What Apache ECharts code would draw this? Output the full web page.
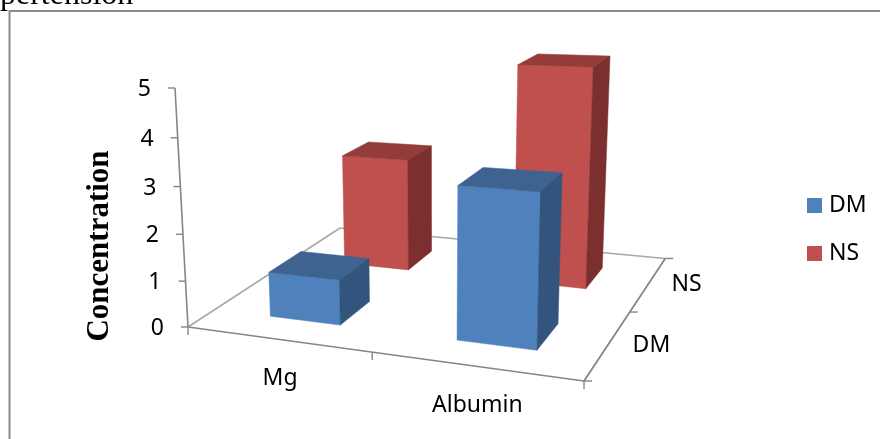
<!DOCTYPE html>
<html>
<head>
<meta charset="utf-8">
<style>
  html, body { margin: 0; padding: 0; background: #fff; }
  #chart { width: 880px; height: 439px; }
</style>
<script src="https://cdn.jsdelivr.net/npm/echarts@6/dist/echarts.min.js"></script>
</head>
<body>
<div id="chart"></div>
<script>
var materials = ['Mg', 'Albumin'];
var depths = ['DM', 'NS'];
var valueTicks = [0, 1, 2, 3, 4, 5];
var dmValues = [0.97, 3.14];
var nsValues = [2.6, 4.85];

var labelFont = '"Noto Sans", sans-serif';
var axisColor = '#868686';
var floorColor = '#a8a8a8';
var barRatio = 0.39;
var depthRatio = 0.2;
var barShift = 0.008;

// hidden grid only supplies the scales, the camera below tilts it into 3d
var gridBox = { left: 100, top: 50, width: 500, height: 300 };

// perspective camera: s along materials, t along depth, k up the value axis (all 0..1)
function project(s, t, k) {
  var w = 1 - 0.13 * s + 0.25 * t - 0.05 * k;
  return [
    (320.1 * s + 237 * t - 21.75 * k + 188) / w,
    (4.47 * s - 42 * t - 243.4 * k + 327) / w
  ];
}

function toUnit(api, cat, val) {
  var p = api.coord([cat, val]);
  return [
    (p[0] - gridBox.left) / gridBox.width,
    (gridBox.top + gridBox.height - p[1]) / gridBox.height
  ];
}

function face(points, color) {
  return {
    type: 'polygon',
    shape: { points: points },
    style: { fill: color, stroke: color, lineWidth: 0.5 }
  };
}

function line(a, b, color, width) {
  return {
    type: 'line',
    shape: { x1: a[0], y1: a[1], x2: b[0], y2: b[1] },
    style: { stroke: color, lineWidth: width }
  };
}

function label(text, x, y, align) {
  return {
    type: 'text',
    style: {
      text: text, x: x, y: y, align: align, verticalAlign: 'middle',
      fontSize: 23, fontFamily: labelFont, fill: '#000'
    }
  };
}

function barRenderer(depthIndex, colors) {
  return function (params, api) {
    var u = toUnit(api, api.value(0), api.value(1));
    var half = api.size([1, 0])[0] / gridBox.width * barRatio / 2;
    var tc = (depthIndex + 0.5) / depths.length;
    var s0 = u[0] - half + barShift, s1 = u[0] + half + barShift;
    var t0 = tc - depthRatio / 2, t1 = tc + depthRatio / 2;
    var k = u[1];
    return {
      type: 'group',
      children: [
        face([project(s0, t0, 0), project(s1, t0, 0), project(s1, t0, k), project(s0, t0, k)], colors[0]),
        face([project(s0, t0, k), project(s1, t0, k), project(s1, t1, k), project(s0, t1, k)], colors[1]),
        face([project(s1, t0, 0), project(s1, t1, 0), project(s1, t1, k), project(s1, t0, k)], colors[2])
      ]
    };
  };
}

function renderAxes(params, api) {
  var kids = [];
  var A = project(0, 0, 0), B = project(1, 0, 0), C = project(1, 1, 0), D = project(0, 1, 0);
  kids.push(line(A, D, floorColor, 1.5));
  kids.push(line(D, C, floorColor, 1.5));
  kids.push(line(A, B, axisColor, 1.6));
  kids.push(line(B, C, axisColor, 1.8));
  kids.push(line(A, project(0, 0, 1), axisColor, 1.6));

  valueTicks.forEach(function (v) {
    var k = toUnit(api, 0, v)[1];
    var p = project(0, 0, k);
    kids.push(line(p, [p[0] - 7, p[1]], axisColor, 1.4));
    kids.push(label(String(v), p[0] - 24, p[1] + 1.5, 'right'));
  });

  [0, 0.5, 1].forEach(function (s) {
    var p = project(s, 0, 0);
    kids.push(line(p, [p[0], p[1] + 8], axisColor, 1.4));
  });
  materials.forEach(function (name, i) {
    var p = project(toUnit(api, i, 0)[0], 0, 0);
    kids.push(label(name, p[0] + 3, p[1] + 39, 'center'));
  });

  [0, 0.5, 1].forEach(function (t) {
    var p = project(1, t, 0);
    kids.push(line(p, [p[0] + 8, p[1]], axisColor, 1.4));
  });
  depths.forEach(function (name, i) {
    var p = project(1, (i + 0.5) / depths.length, 0);
    kids.push(label(name, p[0] + (i === 0 ? 43 : 38), p[1] + 1, 'center'));
  });
  return { type: 'group', children: kids };
}

function barData(values) {
  return values.map(function (v, i) { return [i, v]; });
}

var chart = echarts.init(document.getElementById('chart'), null, { renderer: 'canvas' });

chart.setOption({
  animation: false,
  backgroundColor: '#fff',
  grid: {
    left: gridBox.left, top: gridBox.top,
    width: gridBox.width, height: gridBox.height
  },
  xAxis: { type: 'category', data: materials, show: false },
  yAxis: { type: 'value', min: 0, max: 5, interval: 1, show: false },
  legend: {
    data: ['DM', 'NS'],
    orient: 'vertical',
    left: 802,
    top: 189,
    icon: 'rect',
    itemWidth: 15,
    itemHeight: 15,
    itemGap: 25,
    selectedMode: false,
    textStyle: { fontSize: 23, fontFamily: labelFont, color: '#000', padding: [0, 0, 0, 2] }
  },
  graphic: [
    {
      type: 'rect',
      shape: { x: 9.5, y: 11, width: 900, height: 460 },
      style: { fill: 'none', stroke: '#8c8c8c', lineWidth: 2 }
    },
    {
      type: 'text',
      left: 0,
      top: -20,
      style: { text: 'pertension', fontSize: 32, fontFamily: '"Liberation Serif", serif', fill: '#000' }
    },
    {
      type: 'text',
      x: 100,
      y: 246,
      rotation: Math.PI / 2,
      style: {
        text: 'Concentration', align: 'center', verticalAlign: 'middle',
        fontSize: 31, fontWeight: 'bold', fontFamily: '"Liberation Serif", serif', fill: '#000'
      }
    }
  ],
  series: [
    {
      type: 'custom',
      name: 'axes',
      silent: true,
      clip: false,
      z: 1,
      data: [[0, 0]],
      renderItem: renderAxes
    },
    {
      type: 'custom',
      name: 'NS',
      z: 2,
      clip: false,
      itemStyle: { color: '#C0504D' },
      data: barData(nsValues),
      renderItem: barRenderer(1, ['#C0504D', '#943C39', '#7B2F2E'])
    },
    {
      type: 'custom',
      name: 'DM',
      z: 3,
      clip: false,
      itemStyle: { color: '#4F81BD' },
      data: barData(dmValues),
      renderItem: barRenderer(0, ['#4F81BD', '#3E6390', '#33547C'])
    }
  ]
});
</script>
</body>
</html>
